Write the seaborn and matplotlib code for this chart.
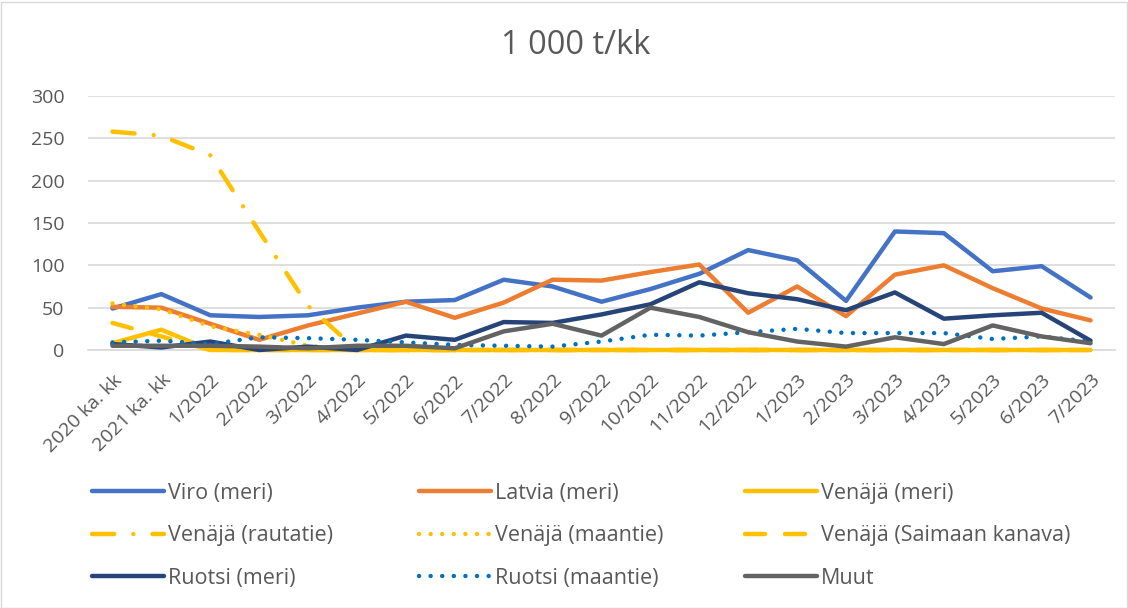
import matplotlib
matplotlib.use("Agg")
import matplotlib.pyplot as plt
from matplotlib.patches import Rectangle
import seaborn as sns
import numpy as np

# categories (months)
kuukaudet = ['2020 ka. kk', '2021 ka. kk',
             '1/2022', '2/2022', '3/2022', '4/2022', '5/2022', '6/2022',
             '7/2022', '8/2022', '9/2022', '10/2022', '11/2022', '12/2022',
             '1/2023', '2/2023', '3/2023', '4/2023', '5/2023', '6/2023', '7/2023']

# series, 1 000 t per month
viro_meri = [49, 66, 41, 39, 41, 50, 57, 59, 83, 75, 57, 72, 90, 118, 106, 58, 140, 138, 93, 99, 62]
latvia_meri = [51, 50, 31, 12, 29, 43, 57, 38, 56, 83, 82, 92, 101, 44, 75, 40, 89, 100, 73, 49, 35]
venaja_meri = [8, 24, 0, 0, 0, 0, 0, 0, 0, 0, 0, 0, 0, 0, 0, 0, 0, 0, 0, 0, 0]
venaja_rautatie = [258, 253, 230, 140, 52, 0, 0, 0, 0, 0, 0, 0, 0, 0, 0, 0, 0, 0, 0, 0, 0]
venaja_maantie = [55, 48, 28, 18, 5, 0, 0, 0, 0, 0, 0, 0, 0, 0, 0, 0, 0, 0, 0, 0, 0]
venaja_saimaa = [32, 16, 0, 0, 0, 0, 0, 0, 0, 0, 0, 0, 0, 0, 0, 0, 0, 0, 0, 0, 0]
ruotsi_meri = [7, 3, 10, 0, 4, 0, 17, 12, 33, 32, 42, 54, 80, 67, 60, 47, 68, 37, 41, 44, 11]
ruotsi_maantie = [9, 11, 7, 15, 14, 12, 9, 6, 5, 4, 10, 18, 17, 21, 25, 20, 20, 20, 13, 16, 10]
muut = [5, 5, 5, 4, 2, 5, 5, 2, 22, 31, 17, 50, 39, 21, 10, 4, 15, 7, 29, 16, 8]

nimet = ['Viro (meri)', 'Latvia (meri)', 'Venäjä (meri)',
         'Venäjä (rautatie)', 'Venäjä (maantie)', 'Venäjä (Saimaan kanava)',
         'Ruotsi (meri)', 'Ruotsi (maantie)', 'Muut']

sns.set_theme(style="white")
plt.rcParams['font.family'] = ['Open Sans', 'DejaVu Sans']

YELLOW = '#FFC000'
solid = '-'
styles = {
    'Viro (meri)': ('#4472C4', solid),
    'Latvia (meri)': ('#ED7D31', solid),
    'Venäjä (meri)': (YELLOW, solid),
    'Venäjä (rautatie)': (YELLOW, (0, (5.0, 4.3, 0.01, 4.3))),
    'Venäjä (maantie)': (YELLOW, (0, (0.01, 2.6))),
    'Venäjä (Saimaan kanava)': (YELLOW, (0, (4.5, 4.5))),
    'Ruotsi (meri)': ('#264478', solid),
    'Ruotsi (maantie)': ('#0070C0', (0, (0.01, 2.6))),
    'Muut': ('#636363', solid),
}
sarjat = [viro_meri, latvia_meri, venaja_meri, venaja_rautatie, venaja_maantie,
          venaja_saimaa, ruotsi_meri, ruotsi_maantie, muut]

fig = plt.figure(figsize=(11.28, 6.08), dpi=100)
ax = fig.add_axes([88 / 1128, 258 / 608, 1027 / 1128, 254 / 608])

x = np.arange(len(kuukaudet))
lines = {}
for name, values in zip(nimet, sarjat):
    color, ls = styles[name]
    sns.lineplot(x=x, y=values, ax=ax, color=color, linewidth=3.2,
                 linestyle=ls, dash_capstyle='round', solid_capstyle='round',
                 solid_joinstyle='round', legend=False, clip_on=False, zorder=3)
    lines[name] = ax.lines[-1]

ax.set_xlim(-0.5, len(kuukaudet) - 0.5)
ax.set_ylim(0, 300)
ax.set_yticks(range(0, 301, 50))
ax.yaxis.grid(True, color='#D9D9D9', linewidth=1.2)
ax.set_axisbelow(True)
for s in ['top', 'right', 'left']:
    ax.spines[s].set_visible(False)
ax.spines['bottom'].set_color('#D9D9D9')
ax.spines['bottom'].set_linewidth(1.2)
ax.spines['bottom'].set_zorder(1)
ax.set_xticks(x)
ax.set_xticklabels(kuukaudet, rotation=45, ha='right', rotation_mode='anchor')
ax.tick_params(axis='both', colors='#595959', labelsize=14, length=0)
ax.tick_params(axis='x', pad=15)
ax.tick_params(axis='y', pad=17)
ax.set_xlabel('')
ax.set_ylabel('')

fig.text(576 / 1128, 1 - 46 / 608, '1 000 t/kk', ha='center', va='center',
         fontsize=23.5, color='#595959')

# legend: three separate columns
sarakkeet = [(92, ['Viro (meri)', 'Venäjä (rautatie)', 'Ruotsi (meri)']),
             (419, ['Latvia (meri)', 'Venäjä (maantie)', 'Ruotsi (maantie)']),
             (745, ['Venäjä (meri)', 'Venäjä (Saimaan kanava)', 'Muut'])]
for xpos, names in sarakkeet:
    leg = fig.legend([lines[n] for n in names], names,
                     loc='center left', bbox_to_anchor=(xpos / 1128, 1 - 536 / 608),
                     frameon=False, fontsize=15.5, labelcolor='#595959',
                     handlelength=3.35, handletextpad=0.19, labelspacing=1.0,
                     borderpad=0, borderaxespad=0)

fig.add_artist(Rectangle((0.5 / 1128, 0.5 / 608), 1126 / 1128, 606 / 608,
                         transform=fig.transFigure, fill=False,
                         edgecolor='#D9D9D9', linewidth=1))

fig.savefig('out.png', dpi=100)
